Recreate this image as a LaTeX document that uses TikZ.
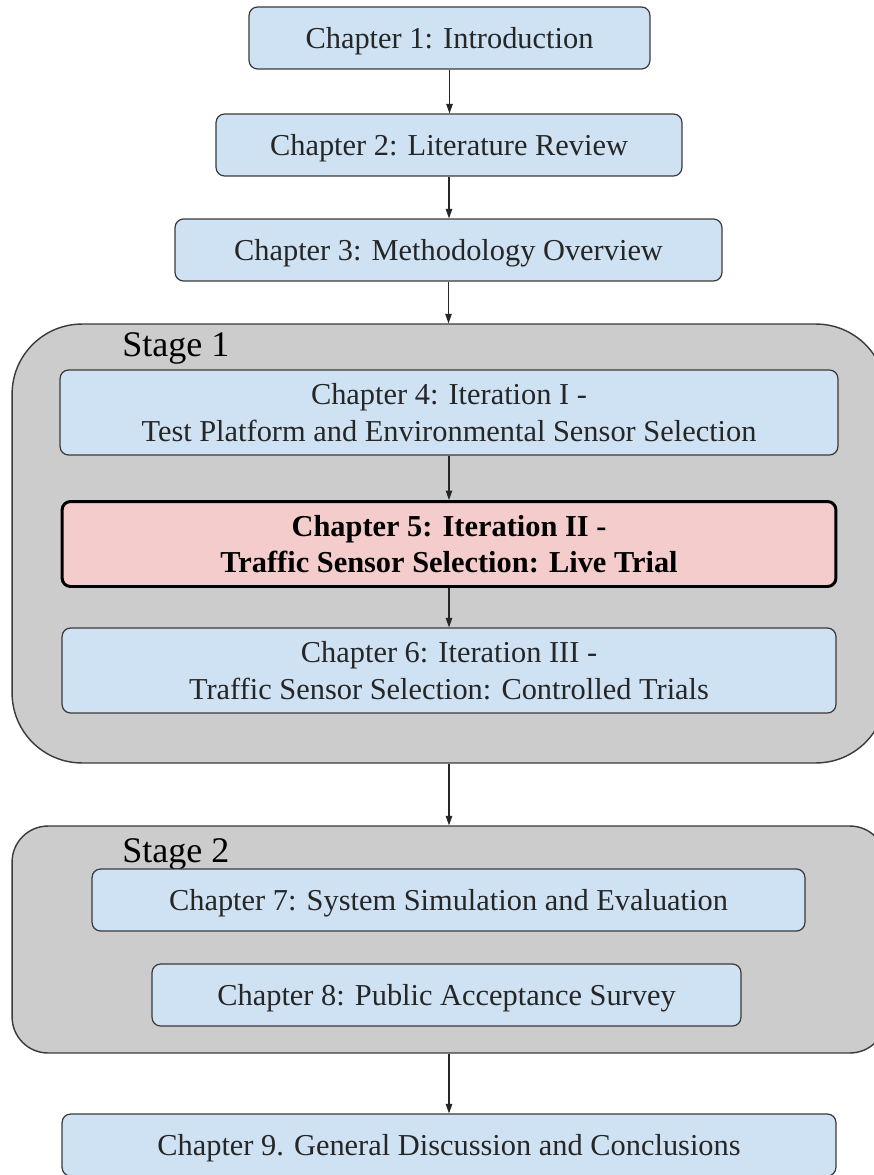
\documentclass[tikz,border=0pt]{standalone}
\usepackage{fontspec}
\setmainfont{Liberation Serif}
\usetikzlibrary{arrows.meta}
\definecolor{chapblue}{HTML}{CFE2F3}
\definecolor{chapred}{HTML}{F4CCCC}
\definecolor{stagegray}{HTML}{CCCCCC}
\definecolor{edgegray}{HTML}{3A3A3A}
\tikzset{
  chapbox/.style={draw=edgegray, line width=0.7pt, fill=chapblue, rounded corners=0.17cm,
    align=center, inner sep=0pt, minimum height=1.24cm, text depth=0pt,
    font=\fontsize{17.3pt}{20.6pt}\selectfont, text=black!85},
  tallbox/.style={chapbox, minimum height=1.7cm},
  keybox/.style={tallbox, draw=black, line width=1.7pt, fill=chapred, text=black,
    font=\fontsize{17.3pt}{20.6pt}\selectfont\bfseries},
  stagebox/.style={draw=edgegray, line width=0.8pt, fill=stagegray, inner sep=0pt,
    minimum width=17.48cm},
  stagelabel/.style={anchor=base west, inner sep=0pt, font=\fontsize{20.5pt}{24pt}\selectfont},
  flow/.style={draw=black!85, line width=0.6pt, -{Triangle[length=1.9mm,width=1.3mm]}}
}
\begin{document}
\begin{tikzpicture}[x=0.02cm,y=-0.02cm]
\useasboundingbox (0,0) rectangle (874,1175);
\clip (0,0) rectangle (874,1175);

% stage containers
\node[stagebox, minimum height=8.78cm, rounded corners=1.4cm] (s1) at (449,543.5) {};
\node[stagebox, minimum height=4.54cm, rounded corners=0.72cm] (s2) at (449,939.5) {};
\node[stagelabel] (l1) at (122,357) {Stage 1};
\node[stagelabel] (l2) at (122,862) {Stage 2};

% chapters
\node[chapbox, minimum width=8.02cm] (c1) at (449.5,38) {Chapter 1: Introduction};
\node[chapbox, minimum width=9.32cm] (c2) at (449,145) {Chapter 2: Literature Review};
\node[chapbox, minimum width=10.94cm] (c3) at (448.5,250) {Chapter 3: Methodology Overview};
\node[tallbox, minimum width=15.56cm] (c4) at (449,412.5) {Chapter 4: Iteration I -\\Test Platform and Environmental Sensor Selection};
\node[keybox, minimum width=15.48cm] (c5) at (449,544) {Chapter 5: Iteration II -\\Traffic Sensor Selection: Live Trial};
\node[tallbox, minimum width=15.48cm] (c6) at (449,670.5) {Chapter 6: Iteration III -\\Traffic Sensor Selection: Controlled Trials};
\node[chapbox, minimum width=14.26cm] (c7) at (448.5,900) {Chapter 7: System Simulation and Evaluation};
\node[chapbox, minimum width=11.78cm] (c8) at (446.5,995) {Chapter 8: Public Acceptance Survey};
\node[chapbox, minimum width=15.48cm] (c9) at (449,1145) {Chapter 9. General Discussion and Conclusions};

% flow arrows
\draw[flow] (c1.south) -- (c1.south |- c2.north);
\draw[flow] (c2.south) -- (c2.south |- c3.north);
\draw[flow] (c3.south) -- (c3.south |- s1.north);
\draw[flow] (c4.south) -- (c4.south |- c5.north);
\draw[flow] (c5.south) -- (c5.south |- c6.north);
\draw[flow] (s1.south) -- (s1.south |- s2.north);
\draw[flow] (s2.south) -- (s2.south |- c9.north);
\end{tikzpicture}
\end{document}
